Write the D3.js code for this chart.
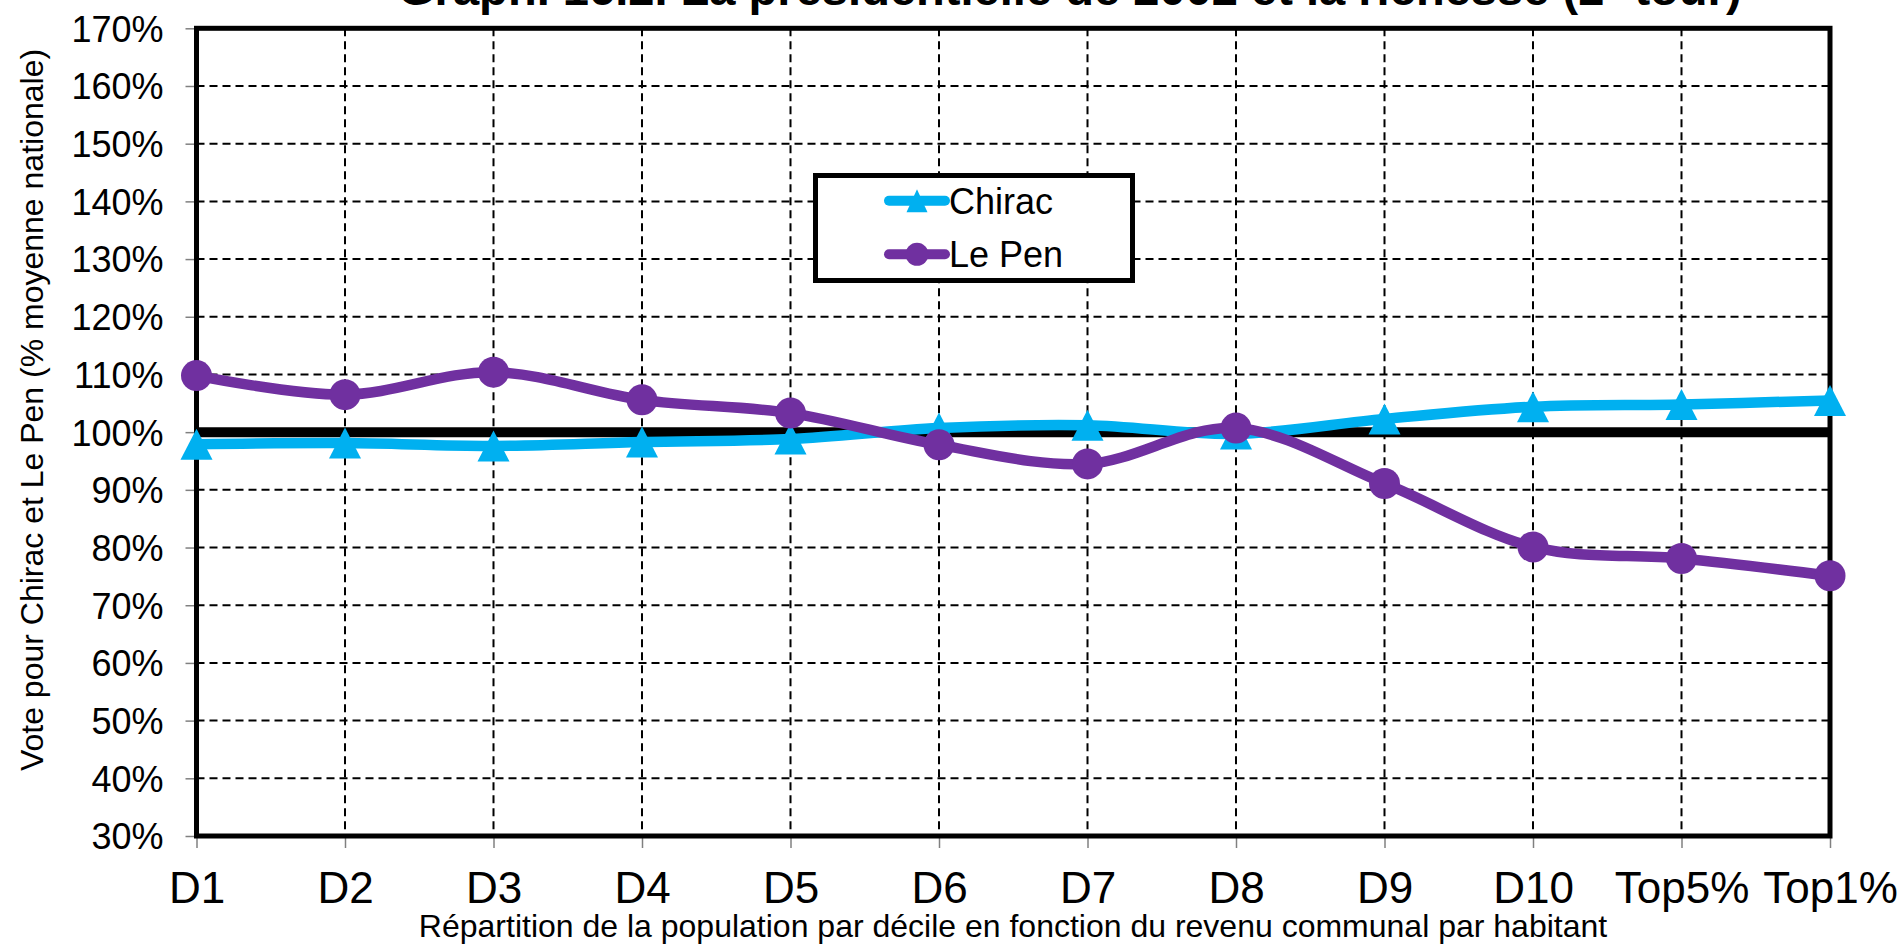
<!DOCTYPE html>
<html><head><meta charset="utf-8">
<script src="https://cdn.jsdelivr.net/npm/d3@7"></script>
<style>
html,body{margin:0;padding:0;background:#fff;}
svg{display:block;font-family:"Liberation Sans",Arial,sans-serif;}
</style></head>
<body><svg id="c" width="1902" height="945"></svg>
<script>
const categories = ["D1","D2","D3","D4","D5","D6","D7","D8","D9","D10","Top5%","Top1%"];
const chirac = [97.9, 98.1, 97.6, 98.3, 98.8, 100.7, 101.2, 99.7, 102.3, 104.4, 104.8, 105.5];
const lepen  = [109.8, 106.5, 110.4, 105.6, 103.3, 97.8, 94.5, 100.7, 91.1, 80.1, 78.1, 75.1];
const yTicks = [30,40,50,60,70,80,90,100,110,120,130,140,150,160,170];
const seriesNames = ["Chirac","Le Pen"];
const titleText = "Graph. 16.2. La présidentielle de 2002 et la richesse (2";
const titleSup = "e";
const titleEnd = " tour)";
const xTitle = "Répartition de la population par décile en fonction du revenu communal par habitant";
const yTitle = "Vote pour Chirac et Le Pen (% moyenne nationale)";

(function(){
const svg = d3.select("#c");
const pL = 196.5, pR = 1830, pT = 28.3, pB = 836;
const x = d3.scalePoint().domain(categories).range([pL, pR]);
const y = d3.scaleLinear().domain([30,170]).range([pB, pT]);
const blue = "#00B0F0", purple = "#7030A0";

// gridlines
const g = svg.append("g");
g.selectAll("line.h").data(yTicks.filter(v=>v>30&&v<170)).join("line").attr("class","h")
  .attr("x1",pL).attr("x2",pR).attr("y1",d=>y(d)).attr("y2",d=>y(d))
  .attr("stroke","#000").attr("stroke-width",2).attr("stroke-dasharray","8,5");
g.selectAll("line.v").data(categories.slice(1,-1)).join("line").attr("class","v")
  .attr("x1",d=>x(d)).attr("x2",d=>x(d)).attr("y1",pT).attr("y2",pB)
  .attr("stroke","#000").attr("stroke-width",2).attr("stroke-dasharray","8,5");

// axes
const yAxis = d3.axisLeft(y).tickValues(yTicks).tickSize(11).tickPadding(22).tickFormat(d=>d+"%");
const ya = svg.append("g").attr("transform",`translate(${pL},0)`).call(yAxis);
ya.select(".domain").remove();
ya.selectAll(".tick line").attr("stroke","#808080").attr("stroke-width",1.5);
ya.selectAll(".tick text").attr("font-size",36).attr("fill","#000").attr("dy","0.358em")
  .style("font-family","'Liberation Sans',Arial,sans-serif");

const xAxis = d3.axisBottom(x).tickSize(12).tickPadding(0);
const xa = svg.append("g").attr("transform",`translate(0,${pB})`).call(xAxis);
xa.select(".domain").remove();
xa.selectAll(".tick line").attr("stroke","#808080").attr("stroke-width",1.5);
xa.selectAll(".tick text").attr("font-size",44).attr("fill","#000").attr("dy",null).attr("y",67)
  .style("font-family","'Liberation Sans',Arial,sans-serif");

// 100% line
svg.append("line").attr("x1",pL).attr("x2",pR).attr("y1",y(100)).attr("y2",y(100))
  .attr("stroke","#000").attr("stroke-width",10);

// frame
svg.append("rect").attr("x",pL).attr("y",pT).attr("width",pR-pL).attr("height",pB-pT)
  .attr("fill","none").attr("stroke","#000").attr("stroke-width",5);

const line = d3.line().x((d,i)=>x(categories[i])).y(d=>y(d)).curve(d3.curveCatmullRom.alpha(0));
function tri(cx,cy,w,h){return `M${cx},${cy-h/2}L${cx+w/2},${cy+h/2}L${cx-w/2},${cy+h/2}Z`;}

// Chirac
svg.append("path").attr("d",line(chirac)).attr("fill","none").attr("stroke",blue)
  .attr("stroke-width",10.5).attr("stroke-linejoin","round").attr("stroke-linecap","round");
svg.append("g").selectAll("path").data(chirac).join("path")
  .attr("d",(d,i)=>tri(x(categories[i]),y(d),32,31)).attr("fill",blue);

// Le Pen
svg.append("path").attr("d",line(lepen)).attr("fill","none").attr("stroke",purple)
  .attr("stroke-width",10.5).attr("stroke-linejoin","round").attr("stroke-linecap","round");
svg.append("g").selectAll("circle").data(lepen).join("circle")
  .attr("cx",(d,i)=>x(categories[i])).attr("cy",d=>y(d)).attr("r",15.5).attr("fill",purple);

// legend
const lg = svg.append("g");
lg.append("rect").attr("x",815.5).attr("y",175.5).attr("width",317).attr("height",105)
  .attr("fill","#fff").attr("stroke","#000").attr("stroke-width",5);
const ly = [200.7, 254.3];
const lcol = [blue, purple];
seriesNames.forEach((n,i)=>{
  lg.append("line").attr("x1",889).attr("x2",945).attr("y1",ly[i]).attr("y2",ly[i])
    .attr("stroke",lcol[i]).attr("stroke-width",10).attr("stroke-linecap","round");
  if(i===0) lg.append("path").attr("d",tri(917,ly[i],21,23)).attr("fill",blue);
  else lg.append("circle").attr("cx",917).attr("cy",ly[i]).attr("r",11.5).attr("fill",purple);
  lg.append("text").attr("x",949).attr("y",ly[i]+13).attr("font-size",36).text(n);
});

// titles
svg.append("text").attr("x",1013).attr("y",937).attr("text-anchor","middle").attr("font-size",32).text(xTitle);
svg.append("text").attr("transform","translate(43,410) rotate(-90)").attr("text-anchor","middle")
  .attr("font-size",32).text(yTitle);

const t = svg.append("text").attr("x",398).attr("y",5).attr("font-size",40).attr("font-weight","bold");
t.append("tspan").text(titleText);
t.append("tspan").attr("font-size",26).attr("dy",-14).text(titleSup);
t.append("tspan").attr("dy",14).text(titleEnd);
const w = t.node().getComputedTextLength();
const fs = 40*1344/w;
t.attr("font-size",fs);
t.select("tspan:nth-child(2)").attr("font-size",fs*0.65).attr("dy",-fs*0.35);
t.select("tspan:nth-child(3)").attr("dy",fs*0.35);
})();
</script></body></html>
